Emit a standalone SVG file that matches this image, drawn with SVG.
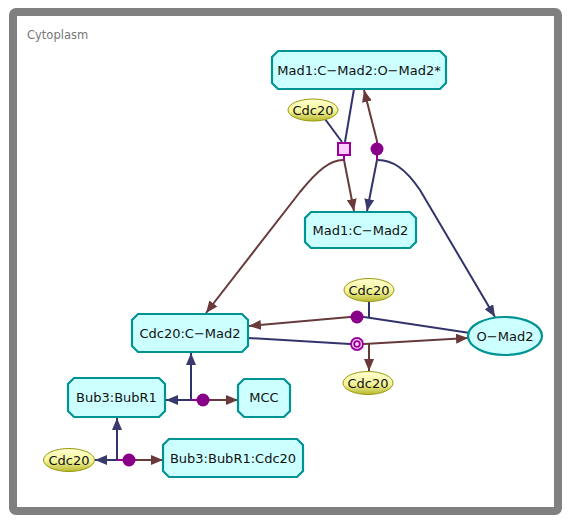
<svg xmlns="http://www.w3.org/2000/svg" width="573" height="525" viewBox="0 0 573 525">
<defs>
<linearGradient id="yel" x1="0" y1="0" x2="0" y2="1">
<stop offset="0" stop-color="#ffffd0"/>
<stop offset="0.55" stop-color="#f4f49a"/>
<stop offset="1" stop-color="#b8b830"/>
</linearGradient>
<marker id="an" markerUnits="userSpaceOnUse" markerWidth="12" markerHeight="10" refX="12" refY="5" orient="auto">
<path d="M0,0 L12,5 L0,10 z" fill="#3a3a6e"/>
</marker>
<marker id="ab" markerUnits="userSpaceOnUse" markerWidth="12" markerHeight="10" refX="12" refY="5" orient="auto">
<path d="M0,0 L12,5 L0,10 z" fill="#6a3a3a"/>
</marker>
</defs>
<style>
.box{fill:#ccffff;stroke:#009393;stroke-width:2.2}
.cdc{fill:url(#yel);stroke:#9a9a10;stroke-width:1}
.t{font-family:"DejaVu Sans",sans-serif;font-size:13px;fill:#111;text-anchor:middle}
.n{fill:none;stroke:#33336b;stroke-width:2}
.b{fill:none;stroke:#663a3a;stroke-width:2}
.p{fill:none;stroke:#990099;stroke-width:2}
</style>
<rect x="13" y="12" width="545" height="499" rx="3" fill="#fff" stroke="#808080" stroke-width="8"/>
<text x="27" y="39" font-family="DejaVu Sans, sans-serif" font-size="11.5" fill="#777">Cytoplasm</text>
<g id="connectors">
<path class="n" d="M354,89 L345,142"/>
<path class="n" d="M325,119 L342,142"/>
<path class="n" d="M377,160 L367,211" marker-end="url(#an)"/>
<path class="n" d="M378,160 C392,160 405,168 420,190 L495,317" marker-end="url(#an)"/>
<path class="n" d="M470,333 L364,317"/>
<path class="n" d="M369,302 L369,317"/>
<path class="n" d="M248,338 L350,344"/>
<path class="n" d="M191,400 L191,353" marker-end="url(#an)"/>
<path class="n" d="M191,400 L166,400" marker-end="url(#an)"/>
<path class="n" d="M117,460 L117,418" marker-end="url(#an)"/>
<path class="n" d="M117,460 L95,460" marker-end="url(#an)"/>
<path class="b" d="M377,141 L364,90" marker-end="url(#ab)"/>
<path class="b" d="M344,160 L354,211" marker-end="url(#ab)"/>
<path class="b" d="M343,160 C330,160 318,170 300,192 L206,313" marker-end="url(#ab)"/>
<path class="b" d="M350,317 L249,326" marker-end="url(#ab)"/>
<path class="b" d="M364,344 L468,338" marker-end="url(#ab)"/>
<path class="b" d="M369,344 L369,371" marker-end="url(#ab)"/>
<path class="b" d="M210,400 L238,400" marker-end="url(#ab)"/>
<path class="b" d="M136,460 L163,460" marker-end="url(#ab)"/>
<path class="p" d="M344,156 L344,161"/>
<path class="p" d="M377,141 L377,160"/>
<path class="p" d="M350,317 L364,317"/>
<path class="p" d="M350,344 L364,344"/>
<path class="p" d="M191,400 L210,400"/>
<path class="p" d="M117,460 L136,460"/>
</g>
<g id="process1"><rect x="338" y="143" width="12" height="12" fill="#ffccff" stroke="#990099" stroke-width="2"/></g>
<g id="process2"><circle cx="377" cy="149" r="6.5" fill="#880088"/></g>
<g id="process3"><circle cx="357" cy="317" r="6.5" fill="#880088"/></g>
<g id="process4"><circle cx="357" cy="344" r="6" fill="#ffccff" stroke="#990099" stroke-width="1.8"/><circle cx="357" cy="344" r="2.8" fill="#ffccff" stroke="#990099" stroke-width="1.8"/></g>
<g id="process5"><circle cx="203" cy="400" r="6.5" fill="#880088"/></g>
<g id="process6"><circle cx="129" cy="460" r="6.5" fill="#880088"/></g>
<g id="mad1_cmad2_omad2">
<polygon class="box" points="278,51 440,51 446,57 446,83 440,89 278,89 272,83 272,57"/>
<text class="t" x="359" y="75">Mad1:C−Mad2:O−Mad2*</text>
</g>
<g id="cdc20_top"><ellipse class="cdc" cx="313" cy="110" rx="25" ry="11"/><text class="t" x="313" y="114.5">Cdc20</text></g>
<g id="mad1_cmad2">
<polygon class="box" points="311,212 410,212 416,218 416,242 410,248 311,248 305,242 305,218"/>
<text class="t" x="360.5" y="235">Mad1:C−Mad2</text>
</g>
<g id="cdc20_mid"><ellipse class="cdc" cx="369" cy="290" rx="25" ry="11.5"/><text class="t" x="369" y="294.5">Cdc20</text></g>
<g id="cdc20_cmad2">
<polygon class="box" points="138,314 242,314 248,320 248,346 242,352 138,352 132,346 132,320"/>
<text class="t" x="190" y="337.5">Cdc20:C−Mad2</text>
</g>
<g id="omad2"><ellipse cx="505" cy="336" rx="37" ry="19" fill="#ccffff" stroke="#009393" stroke-width="2.2"/><text class="t" x="505" y="340.5">O−Mad2</text></g>
<g id="cdc20_low"><ellipse class="cdc" cx="368" cy="383" rx="25" ry="11.5"/><text class="t" x="368" y="387.5">Cdc20</text></g>
<g id="bub3_bubr1">
<polygon class="box" points="74,378 159,378 165,384 165,411 159,417 74,417 68,411 68,384"/>
<text class="t" x="116.5" y="402">Bub3:BubR1</text>
</g>
<g id="mcc">
<polygon class="box" points="244,379 284,379 290,385 290,411 284,417 244,417 238,411 238,385"/>
<text class="t" x="264" y="402">MCC</text>
</g>
<g id="cdc20_left"><ellipse class="cdc" cx="69" cy="460" rx="25.5" ry="11.5"/><text class="t" x="69" y="464.5">Cdc20</text></g>
<g id="bub3_bubr1_cdc20">
<polygon class="box" points="169,439 297,439 303,445 303,471 297,477 169,477 163,471 163,445"/>
<text class="t" x="233" y="462.5">Bub3:BubR1:Cdc20</text>
</g>
</svg>
